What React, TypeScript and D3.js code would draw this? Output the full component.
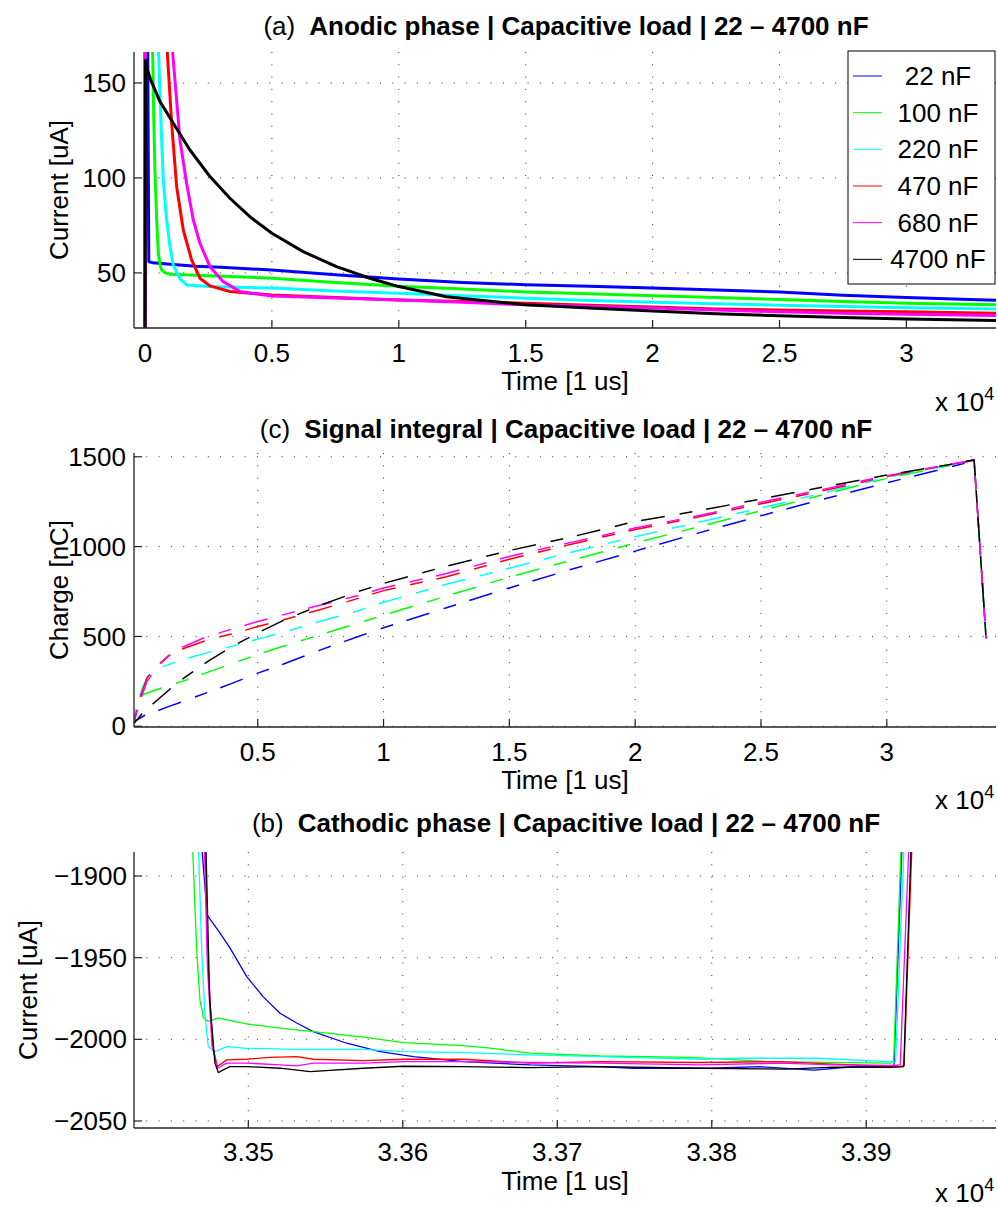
import React from 'react';
import * as d3 from 'd3';

type P = [number, number];

const SERIES_NAMES = ['22 nF', '100 nF', '220 nF', '470 nF', '680 nF', '4700 nF'];
const SERIES_COLORS = ['#0000ff', '#00ff00', '#00ffff', '#ff0000', '#ff00ff', '#000000'];

// ---- Panel (a): anodic phase current [uA] vs time [us]
const anodic22: P[] = [[0, 0], [20, 400], [150, 56], [300, 55.3], [1000, 54.5], [2000, 53.5], [3000, 53], [5000, 51.5], [7500, 49], [10000, 46.8], [12500, 45], [15000, 43.8], [17500, 43], [20000, 42], [22500, 41], [25000, 40], [27500, 38.3], [30000, 37], [32500, 36], [33550, 35.6]];
const anodic100: P[] = [[0, 0], [10, 400], [250, 200], [300, 168], [340, 135], [394, 103], [460, 78], [525, 60.5], [600, 54], [656, 51.6], [800, 50], [1000, 49.3], [2000, 48.8], [5000, 47.2], [7500, 45], [10000, 43], [12500, 41.5], [15000, 40], [17500, 39], [20000, 38], [22500, 37], [25000, 36], [27500, 35], [30000, 34], [33550, 33.2]];
const anodic220: P[] = [[0, 0], [10, 400], [480, 200], [525, 170], [656, 120], [722, 99], [853, 78], [984, 64], [1116, 54], [1378, 47], [1640, 43.7], [2500, 42.8], [5000, 42], [7500, 40.5], [10000, 39.3], [12500, 38], [15000, 36.7], [17500, 35.5], [20000, 34.5], [22500, 33.8], [25000, 33], [27500, 32.3], [30000, 31.7], [33550, 31]];
const anodic470: P[] = [[0, 0], [10, 400], [840, 190], [880, 166], [1050, 128.8], [1247, 95.4], [1509, 72.6], [1837, 56.8], [2165, 47.2], [2560, 43.2], [3346, 40.2], [5000, 38.4], [7500, 37], [10000, 35.8], [12500, 35], [15000, 34], [17500, 33], [20000, 32], [22500, 31], [25000, 30.5], [27500, 30], [30000, 29.5], [33550, 28.8]];
const anodic680: P[] = [[0, 0], [10, 400], [1040, 190], [1090, 166], [1378, 120], [1640, 97.2], [1903, 77.9], [2165, 65.6], [2560, 53.3], [3084, 45.4], [3740, 40.2], [5000, 37.9], [7500, 36.8], [10000, 35.8], [12500, 34.5], [15000, 33.2], [17500, 32.5], [20000, 31.5], [22500, 30.5], [25000, 29.5], [27500, 28.8], [30000, 28.2], [33550, 27.6]];
const anodic4700: P[] = [[0, 0], [20, 162], [40, 159.5], [197, 152.5], [590, 140.2], [1116, 128.8], [1772, 114.7], [2560, 100.7], [3346, 89.3], [4134, 79.6], [5000, 70.9], [6233, 61.2], [7546, 53.3], [8858, 47.2], [10000, 42.8], [11877, 37.5], [15000, 33.2], [17500, 31.5], [20000, 30], [22500, 28.5], [25000, 27.5], [27500, 26.5], [30000, 25.8], [33550, 25]];
const ANODIC = [anodic22, anodic100, anodic220, anodic470, anodic680, anodic4700];

// ---- Panel (c): signal integral, charge [nC] vs time [us]
const charge22: P[] = [[80, 25], [500, 60], [1000, 85], [1500, 112], [2000, 137], [3000, 188], [4000, 240], [5000, 296], [6000, 345], [7500, 425], [9000, 500], [10000, 548], [12500, 660], [15000, 770], [17500, 875], [20000, 975], [22500, 1075], [25000, 1172], [27500, 1265], [30000, 1355], [32500, 1442], [33470, 1478], [33946, 489]];
const charge100: P[] = [[80, 20], [250, 160], [500, 180], [1000, 205], [1500, 228], [2000, 250], [3000, 300], [4000, 350], [5000, 400], [6000, 445], [7500, 510], [9000, 575], [10000, 618], [12500, 725], [15000, 830], [17500, 925], [20000, 1020], [22500, 1110], [25000, 1200], [27500, 1290], [30000, 1380], [32500, 1452], [33470, 1481], [33946, 489]];
const charge220: P[] = [[80, 25], [200, 120], [400, 210], [600, 270], [800, 305], [1000, 322], [1500, 345], [2000, 370], [3000, 410], [4000, 446], [5000, 485], [6000, 522], [7500, 585], [9000, 643], [10000, 690], [12500, 790], [15000, 880], [17500, 970], [20000, 1055], [22500, 1135], [25000, 1215], [27500, 1300], [30000, 1385], [32500, 1455], [33470, 1480], [33946, 489]];
const charge470: P[] = [[80, 20], [300, 150], [600, 270], [1000, 335], [1500, 400], [2000, 430], [3000, 480], [4000, 515], [5000, 555], [6000, 592], [7500, 650], [9000, 712], [10000, 755], [12500, 832], [15000, 930], [17500, 1015], [20000, 1095], [22500, 1165], [25000, 1238], [27500, 1312], [30000, 1390], [32500, 1456], [33470, 1481], [33946, 489]];
const charge680: P[] = [[80, 20], [300, 130], [600, 250], [1000, 330], [1500, 395], [2000, 440], [3000, 500], [4000, 542], [5000, 583], [6000, 620], [7500, 675], [9000, 728], [10000, 770], [12500, 850], [15000, 945], [17500, 1025], [20000, 1103], [22500, 1172], [25000, 1247], [27500, 1320], [30000, 1395], [32500, 1458], [33470, 1482], [33946, 489]];
const charge4700: P[] = [[80, 15], [400, 70], [700, 108], [1000, 145], [1500, 205], [2000, 262], [3000, 360], [4000, 445], [5000, 520], [6000, 588], [7500, 675], [9000, 750], [10000, 795], [12500, 891], [15000, 978], [17500, 1055], [20000, 1140], [22500, 1199], [25000, 1265], [27500, 1332], [30000, 1398], [32500, 1457], [33470, 1483], [33946, 489]];
const CHARGE = [charge22, charge100, charge220, charge470, charge680, charge4700];

// ---- Panel (b): cathodic phase current [uA] vs time [us]
const cathodic22: P[] = [[33468, -1860], [33473.4, -1924], [33481.7, -1935], [33488.1, -1944], [33499, -1961.6], [33509.7, -1974], [33520.5, -1984], [33531.3, -1990], [33542, -1995.3], [33563.7, -2002.4], [33585.3, -2007.5], [33606.9, -2010.6], [33639.3, -2013.6], [33682.5, -2015.7], [33727.8, -2016.7], [33749.4, -2017.7], [33800, -2017.7], [33830, -2016.7], [33866, -2018.9], [33895, -2016.5], [33915.7, -2016.7], [33918, -2016], [33924, -1860]];
const cathodic100: P[] = [[33463, -1860], [33465.5, -1920], [33466.6, -1945], [33468.7, -1976], [33471, -1987], [33474, -1989], [33480.6, -1987], [33499, -1990.6], [33520.5, -1993.2], [33542, -1995.3], [33574.5, -1998.7], [33600.4, -2002], [33639, -2003.8], [33656.6, -2005.4], [33682.5, -2008.5], [33727.8, -2010.2], [33786, -2011], [33835.8, -2013.6], [33915.7, -2014.6], [33917.8, -2013], [33923.3, -1860]];
const cathodic220: P[] = [[33467, -1860], [33469.8, -1945], [33472, -1986], [33474.1, -2004.5], [33478.4, -2007.5], [33486, -2004.5], [33499, -2005.5], [33531.3, -2006.1], [33574.5, -2006.1], [33600.4, -2007.5], [33639, -2008.1], [33682.5, -2009.5], [33727.8, -2010.6], [33792.6, -2012.2], [33818.5, -2011.6], [33868.2, -2011.6], [33904.9, -2013.2], [33919, -2014], [33925.4, -1860]];
const cathodic470: P[] = [[33471.5, -1860], [33474, -1955.5], [33477, -2004.5], [33480, -2016.7], [33486, -2012.6], [33499, -2012.2], [33514, -2011], [33531.3, -2010.6], [33542, -2012.2], [33574.5, -2013], [33600.4, -2012.2], [33639, -2012.2], [33682.5, -2014.6], [33727.8, -2013.6], [33792.6, -2014.2], [33844.4, -2013.6], [33879, -2015.2], [33922, -2016.7], [33924.5, -2016], [33930.4, -1860]];
const cathodic680: P[] = [[33471, -1860], [33473.5, -1955], [33476.5, -2004], [33480, -2017.7], [33486, -2014.6], [33499, -2014.6], [33520.5, -2015.6], [33531.3, -2016.2], [33542, -2014.6], [33574.5, -2014.6], [33600.4, -2013.6], [33639, -2013.6], [33682.5, -2014.2], [33727.8, -2014.6], [33792.6, -2015.6], [33844.4, -2014.6], [33879, -2015.6], [33919, -2016], [33922, -2015.5], [33928.5, -1860]];
const cathodic4700: P[] = [[33472, -1860], [33475, -1976], [33478.4, -2014.6], [33480.6, -2020.4], [33483.8, -2018.7], [33488.1, -2016.7], [33499, -2016.7], [33520.5, -2017.7], [33540, -2019.8], [33574.5, -2017.7], [33600.4, -2016.5], [33639, -2016.7], [33682.5, -2017.3], [33727.8, -2016.7], [33792.6, -2017.7], [33848, -2018.3], [33879, -2017], [33915.7, -2017.2], [33924.3, -2016.7], [33929.8, -1860]];
const CATHODIC = [cathodic22, cathodic100, cathodic220, cathodic470, cathodic680, cathodic4700];

// ---- Ticks
const A_XTICKS = [0, 5000, 10000, 15000, 20000, 25000, 30000];
const A_YTICKS = [50, 100, 150];
const C_XTICKS = [5000, 10000, 15000, 20000, 25000, 30000];
const C_YTICKS = [0, 500, 1000, 1500];
const B_XTICKS = [33500, 33600, 33700, 33800, 33900];
const B_YTICKS = [-2050, -2000, -1950, -1900];

const FONT = '"Liberation Sans", Arial, Helvetica, sans-serif';
const FS = 26;
const L = 134;
const R = 996;

function fmtX(t: number, dec: number) {
  const v = t / 10000;
  if (v === 0) return '0';
  return dec ? v.toFixed(dec).replace(/0+$/, '').replace(/\.$/, '') : String(v);
}
function fmtY(v: number) {
  return v < 0 ? '\u2212' + String(-v) : String(v);
}

interface PanelProps {
  id: string;
  top: number;
  bottom: number;
  xDomain: [number, number];
  yDomain: [number, number];
  xTicks: number[];
  yTicks: number[];
  xDec: number;
  series: P[][];
  dashed?: boolean;
  strokeWidth: number;
  title: string;
  letter: string;
  titleBaseline: number;
  ylabel: string;
  ylabelX: number;
  yTickX: number;
  expBaseline: number;
  xlabelBaseline: number;
  tickBaseline: number;
}

function Panel(p: PanelProps) {
  const x = d3.scaleLinear().domain(p.xDomain).range([L, R]);
  const y = d3.scaleLinear().domain(p.yDomain).range([p.bottom, p.top]);
  const line = d3.line<P>().x(d => x(d[0])).y(d => y(d[1]));
  const tickLen = 8;
  const gridStyle = { stroke: '#333', strokeWidth: 1, strokeDasharray: '1,11.3' };
  return (
    <g>
      <defs>
        <clipPath id={'clip-' + p.id}>
          <rect x={L} y={p.top} width={R - L} height={p.bottom - p.top} />
        </clipPath>
      </defs>
      {p.xTicks.map(t => (
        <line key={'gx' + t} x1={x(t)} x2={x(t)} y1={p.top} y2={p.bottom} style={gridStyle} />
      ))}
      {p.yTicks.map(v => (
        <line key={'gy' + v} x1={L} x2={R} y1={y(v)} y2={y(v)} style={gridStyle} />
      ))}
      <g clipPath={`url(#clip-${p.id})`}>
        {p.series.map((s, i) => (
          <path
            key={i}
            d={line(s) || ''}
            fill="none"
            stroke={SERIES_COLORS[i]}
            strokeWidth={p.strokeWidth}
            strokeLinejoin="round"
            strokeDasharray={p.dashed ? '13,14,24,15' : undefined}
          />
        ))}
      </g>
      <line x1={L} x2={L} y1={p.top} y2={p.bottom} stroke="#222" strokeWidth={1.3} />
      <line x1={L} x2={R} y1={p.bottom} y2={p.bottom} stroke="#222" strokeWidth={1.3} />
      {p.xTicks.map(t => (
        <line key={'tx' + t} x1={x(t)} x2={x(t)} y1={p.bottom} y2={p.bottom - tickLen} stroke="#222" strokeWidth={1.2} />
      ))}
      {p.yTicks.map(v => (
        <line key={'ty' + v} x1={L} x2={L + tickLen} y1={y(v)} y2={y(v)} stroke="#222" strokeWidth={1.2} />
      ))}
      <g fontFamily={FONT} fontSize={FS} fill="#000">
        {p.xTicks.map(t => (
          <text key={'lx' + t} x={x(t)} y={p.tickBaseline} textAnchor="middle">
            {fmtX(t, p.xDec)}
          </text>
        ))}
        {p.yTicks.map(v => (
          <text key={'ly' + v} x={p.yTickX} y={y(v)} dy="0.35em" textAnchor="end">
            {fmtY(v)}
          </text>
        ))}
        <text x={565} y={p.xlabelBaseline} textAnchor="middle">Time [1 us]</text>
        <text x={935} y={p.expBaseline}>
          x 10<tspan dy={-11} fontSize={18}>4</tspan>
        </text>
        <text
          transform={`translate(${p.ylabelX},${(p.top + p.bottom) / 2}) rotate(-90)`}
          textAnchor="middle"
        >
          {p.ylabel}
        </text>
        <text x={566} y={p.titleBaseline} textAnchor="middle">
          <tspan>{p.letter}</tspan>
          <tspan dx={14} fontWeight="bold">{p.title}</tspan>
        </text>
      </g>
    </g>
  );
}

function Legend() {
  const x0 = 848, x1 = 995, y0 = 51, y1 = 284;
  const rowH = 36.67;
  return (
    <g>
      <rect x={x0} y={y0} width={x1 - x0} height={y1 - y0} fill="#fff" stroke="#000" strokeWidth={1} />
      {SERIES_NAMES.map((n, i) => {
        const cy = 76 + i * rowH;
        return (
          <g key={n}>
            <line x1={853} x2={882} y1={cy} y2={cy} stroke={SERIES_COLORS[i]} strokeWidth={1} />
            <text x={938} y={cy} dy="0.35em" textAnchor="middle" fontFamily={FONT} fontSize={FS}>
              {n}
            </text>
          </g>
        );
      })}
    </g>
  );
}

export default function App() {
  return (
    <div style={{ position: 'absolute', left: 0, top: 0 }}>
      <svg width={998} height={1207} style={{ display: 'block', background: '#fff' }}>
        <rect width={998} height={1207} fill="#fff" />
        <Panel
          id="a"
          top={52}
          bottom={328}
          xDomain={[-433, 33530]}
          yDomain={[21, 166.3]}
          xTicks={A_XTICKS}
          yTicks={A_YTICKS}
          xDec={1}
          series={ANODIC}
          strokeWidth={3}
          title="Anodic phase | Capacitive load | 22 – 4700 nF"
          letter="(a)"
          titleBaseline={35}
          ylabel="Current [uA]"
          ylabelX={68}
          yTickX={126}
          tickBaseline={362}
          xlabelBaseline={390}
          expBaseline={411}
        />
        <Legend />
        <Panel
          id="c"
          top={453}
          bottom={727}
          xDomain={[83, 34340]}
          yDomain={[-4, 1521]}
          xTicks={C_XTICKS}
          yTicks={C_YTICKS}
          xDec={1}
          series={CHARGE}
          dashed
          strokeWidth={1.5}
          title="Signal integral | Capacitive load | 22 – 4700 nF"
          letter="(c)"
          titleBaseline={438}
          ylabel="Charge [nC]"
          ylabelX={68}
          yTickX={126}
          tickBaseline={761}
          xlabelBaseline={789}
          expBaseline={809}
        />
        <Panel
          id="b"
          top={852}
          bottom={1128}
          xDomain={[33426, 33984]}
          yDomain={[-2054.3, -1885.3]}
          xTicks={B_XTICKS}
          yTicks={B_YTICKS}
          xDec={2}
          series={CATHODIC}
          strokeWidth={1.3}
          title="Cathodic phase | Capacitive load | 22 – 4700 nF"
          letter="(b)"
          titleBaseline={832}
          ylabel="Current [uA]"
          ylabelX={37}
          yTickX={127}
          tickBaseline={1161}
          xlabelBaseline={1190}
          expBaseline={1202}
        />
      </svg>
    </div>
  );
}
